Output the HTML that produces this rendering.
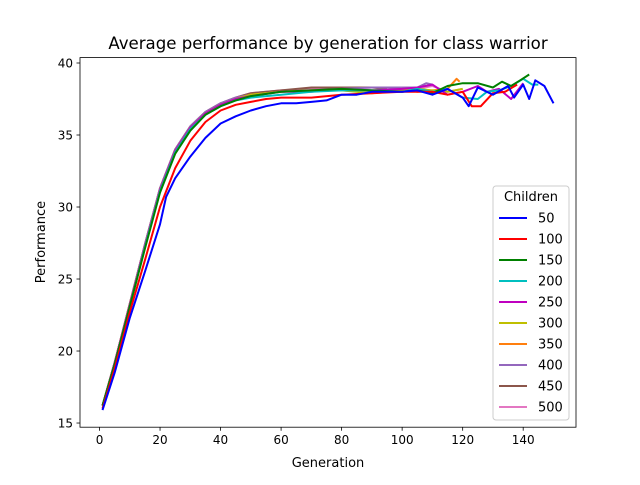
<!DOCTYPE html>
<html><head><meta charset="utf-8"><style>
body{margin:0;background:#fff}
svg{font-family:"DejaVu Sans","Liberation Sans",sans-serif}
</style></head><body>
<svg id="chart" width="640" height="480" viewBox="0 0 640 480">
<rect width="640" height="480" fill="#fff"/>
<text x="328" y="49" text-anchor="middle" font-size="16.6">Average performance by generation for class warrior</text>
<g id="plot"></g>
<rect x="80" y="57.6" width="496" height="369.6" fill="none" stroke="#000" stroke-width="0.8"/>
<g id="axes"></g>
<text x="328" y="467" text-anchor="middle" font-size="13">Generation</text>
<text x="45" y="242" text-anchor="middle" font-size="13" transform="rotate(-90 45 242)">Performance</text>
<g id="legend"></g>
</svg>
<script>
const seriesNames=["50","100","150","200","250","300","350","400","450","500"];
const seriesColors=["#0000ff","#ff0000","#008000","#00bfbf","#bf00bf","#bfbf00","#ff7f0e","#9467bd","#8c564b","#e377c2"];
const xTicks=[0,20,40,60,80,100,120,140];
const yTicks=[15,20,25,30,35,40];
const gens50=[1,5,10,15,20,22,25,30,35,40,45,50,55,60,65,70,75,80,85,90,95,100,105,110,115,120,122,125,130,135,137,140,142,144,147,150];
const vals50=[15.9,18.5,22.3,25.5,28.8,30.7,32.0,33.5,34.8,35.8,36.3,36.7,37.0,37.2,37.2,37.3,37.4,37.8,37.8,38.0,38.0,38.0,38.1,37.8,38.2,37.6,37.0,38.3,37.8,38.4,37.6,38.5,37.5,38.8,38.4,37.2];
const gens100=[1,5,10,15,20,25,30,35,40,45,50,55,60,65,70,80,90,100,110,115,120,123,126,130,134,138];
const vals100=[16.0,18.8,22.7,26.3,30.0,32.7,34.6,35.9,36.7,37.1,37.3,37.5,37.6,37.6,37.6,37.8,37.9,38.0,38.0,37.8,38.0,37.0,37.0,37.9,38.0,38.5];
const gensBase=[1,5,10,15,20,25,30,35,40,45,50,60,70,80,90,100];
const vals150=[16.2,19.1,23.1,27.1,31.0,33.7,35.3,36.4,37.0,37.4,37.7,38.0,38.1,38.2,38.1,38.0];
const tail150g=[105,110,115,120,125,130,133,136,139,142];
const tail150v=[38.1,37.9,38.4,38.6,38.6,38.3,38.7,38.4,38.8,39.2];
const vals200=[16.2,19.1,23.1,27.2,31.1,33.8,35.4,36.4,37.0,37.4,37.6,37.8,38.0,38.1,38.1,38.0];
const tail200g=[105,110,115,120,125,128,132,136,140,143,145];
const tail200v=[38.2,38.0,38.2,37.6,37.5,38.0,38.1,38.4,38.9,38.5,38.5];
const vals250=[16.2,19.2,23.2,27.3,31.2,33.9,35.5,36.5,37.1,37.5,37.7,38.0,38.0,38.2,38.1,38.2];
const tail250g=[105,110,115,120,125,128,132,136,140];
const tail250v=[38.3,38.5,37.8,38.0,38.4,38.0,38.2,37.5,38.6];
const vals300=[16.2,19.2,23.2,27.3,31.2,33.9,35.5,36.5,37.1,37.5,37.8,38.0,38.1,38.1,37.9,38.1];
const tail300g=[105,110,115,120];
const tail300v=[38.2,38.1,38.0,38.2];
const vals350=[16.2,19.2,23.2,27.3,31.2,33.9,35.5,36.5,37.1,37.5,37.8,38.0,38.1,38.1,38.0,38.2];
const tail350g=[105,110,115,118,119];
const tail350v=[38.0,38.1,38.2,38.9,38.7];
const vals400=[16.2,19.2,23.2,27.4,31.3,34.0,35.6,36.6,37.2,37.6,37.8,38.0,38.1,38.2,38.3,38.3];
const tail400g=[105,108,110];
const tail400v=[38.3,38.6,38.5];
const vals450=[16.2,19.2,23.3,27.4,31.3,34.0,35.6,36.6,37.2,37.6,37.9,38.1,38.3,38.3,38.3];
const tail450g=[95];
const tail450v=[38.2];
const vals500=[16.2,19.2,23.3,27.4,31.3,34.0,35.6,36.6,37.2,37.6,37.9,38.1,38.2,38.2,38.3,38.3];
const tail500g=[105,110,115,120];
const tail500v=[38.2,38.4,38.0,38.2];

const x0=80,x1=576,y0=427.2,y1=57.6,xmin=-6.45,xmax=157.45,ymin=14.71,ymax=40.375;
const X=v=>x0+(v-xmin)/(xmax-xmin)*(x1-x0);
const Y=v=>y0-(v-ymin)/(ymax-ymin)*(y0-y1);
const NS="http://www.w3.org/2000/svg";
function mk(t,a,p){const e=document.createElementNS(NS,t);for(const k in a)e.setAttribute(k,a[k]);p.appendChild(e);return e;}
const axes=document.getElementById('axes');
xTicks.forEach(t=>{
 const l=mk('line',{x1:X(t),x2:X(t),y1:y0,y2:y0+3.5,stroke:'#000','stroke-width':0.8},axes);
 
 
 const tx=mk('text',{x:X(t),y:y0+17,'text-anchor':'middle','font-size':12},axes);tx.textContent=t;
 
 
});
yTicks.forEach(t=>{
 const l=mk('line',{x1:x0-3.5,x2:x0,y1:Y(t),y2:Y(t),stroke:'#000','stroke-width':0.8},axes);
 
 
 const tx=mk('text',{x:x0-7,y:Y(t)+4.5,'text-anchor':'end','font-size':12},axes);tx.textContent=t;
 
 
});
const allG=[gens50,gens100,gensBase.concat(tail150g),gensBase.concat(tail200g),gensBase.concat(tail250g),gensBase.concat(tail300g),gensBase.concat(tail350g),gensBase.concat(tail400g),gensBase.slice(0,15).concat(tail450g),gensBase.concat(tail500g)];
const allV=[vals50,vals100,vals150.concat(tail150v),vals200.concat(tail200v),vals250.concat(tail250v),vals300.concat(tail300v),vals350.concat(tail350v),vals400.concat(tail400v),vals450.concat(tail450v),vals500.concat(tail500v)];
const plot=document.getElementById('plot');
for(let i=allG.length-1;i>=0;i--){
 const d=allG[i].map((g,j)=>(j?'L':'M')+X(g).toFixed(1)+' '+Y(allV[i][j]).toFixed(1)).join(' ');
 const p=mk('path',{d:d,fill:'none',stroke:seriesColors[i],'stroke-width':2,'stroke-linejoin':'round'},plot);
 
 
}
const lg=document.getElementById('legend');
const box=mk('rect',{x:493,y:186,width:76,height:234,rx:3,fill:'#fff','fill-opacity':0.8,stroke:'#ccc'},lg);


const lt=mk('text',{x:531,y:201,'text-anchor':'middle','font-size':13},lg);lt.textContent='Children';


seriesNames.forEach((n,i)=>{
 const y=218+i*21;
 const l=mk('line',{x1:499,x2:527,y1:y,y2:y,stroke:seriesColors[i],'stroke-width':2},lg);
 
 
 const t=mk('text',{x:538,y:y+4.5,'font-size':13},lg);t.textContent=n;
 
 
});
</script>
</body></html>
